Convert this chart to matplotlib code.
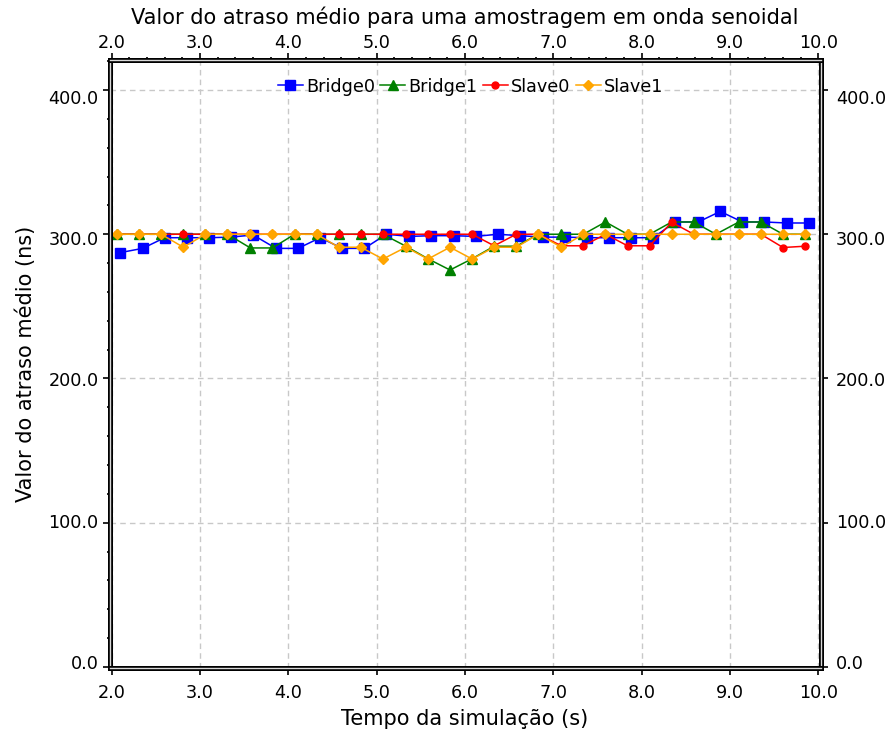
import matplotlib
matplotlib.use('Agg')
import matplotlib.pyplot as plt
import matplotlib.patheffects as pe
from matplotlib.ticker import MultipleLocator

plt.rcParams['font.family'] = ['DejaVu Sans']

# instantes de amostragem (s)
t_bridge0 = [2.09, 2.35, 2.60, 2.85, 3.10, 3.35, 3.60, 3.86, 4.11, 4.36, 4.61,
             4.86, 5.11, 5.37, 5.62, 5.87, 6.12, 6.37, 6.62, 6.88, 7.13, 7.38,
             7.63, 7.88, 8.13, 8.38, 8.64, 8.89, 9.14, 9.39, 9.64, 9.89]
t_outros = [2.06, 2.31, 2.56, 2.81, 3.06, 3.31, 3.57, 3.82, 4.07, 4.32, 4.57,
            4.82, 5.07, 5.33, 5.58, 5.83, 6.08, 6.33, 6.58, 6.83, 7.09, 7.34,
            7.59, 7.84, 8.09, 8.34, 8.59, 8.84, 9.10, 9.35, 9.60, 9.85]

# atraso medio (ns)
bridge0 = [287.2, 290.2, 297.6, 297.6, 297.6, 298.0, 299.5, 290.2, 290.2, 297.6,
           290.2, 290.2, 300.0, 298.5, 299.0, 299.0, 298.5, 300.0, 299.0, 298.0,
           298.0, 297.6, 297.6, 297.6, 297.6, 308.5, 308.5, 315.8, 308.5, 308.5,
           307.8, 307.8]
bridge1 = [300.0, 300.0, 300.0, 300.0, 300.0, 300.0, 290.5, 290.5, 300.0, 300.0,
           300.0, 300.0, 300.0, 291.7, 283.0, 275.2, 283.0, 291.7, 291.7, 300.0,
           300.0, 300.0, 308.5, 300.0, 300.0, 308.5, 308.5, 300.0, 308.5, 308.5,
           300.0, 300.0]
slave0 = [300.0, 300.0, 300.0, 300.0, 300.0, 300.0, 300.0, 300.0, 300.0, 300.0,
          300.0, 300.0, 300.0, 300.0, 300.0, 300.0, 300.0, 292.0, 300.0, 300.0,
          292.0, 292.0, 300.0, 292.0, 292.0, 308.3, 300.0, 300.0, 300.0, 300.0,
          290.8, 291.7]
slave1 = [300.0, 300.0, 300.0, 291.0, 300.0, 300.0, 300.0, 300.0, 300.0, 300.0,
          291.0, 291.0, 282.8, 291.0, 282.8, 291.0, 282.8, 291.0, 291.0, 300.0,
          291.0, 300.0, 300.0, 300.0, 300.0, 300.0, 300.0, 300.0, 300.0, 300.0,
          300.0, 300.0]

yticks = [0, 100, 200, 300, 400]
yticklabels = ['0.0', '100.0', '200.0', '300.0', '400.0']
xticks = [2, 3, 4, 5, 6, 7, 8, 9, 10]
xticklabels = ['2.0', '3.0', '4.0', '5.0', '6.0', '7.0', '8.0', '9.0', '10.0']

fs_tick = 12.7
fs_label = 15

fig = plt.figure(figsize=(8.89, 7.29), dpi=100)
pos = [0.1232, 0.0837, 0.7998, 0.834]
ax = fig.add_axes(pos)

ax.plot(t_bridge0, bridge0, color='#0000ff', marker='s', ms=6.5, lw=1.1, label='Bridge0')
ax.plot(t_outros, bridge1, color='#008000', marker='^', ms=7, lw=1.1, label='Bridge1')
ax.plot(t_outros, slave0, color='#ff0000', marker='o', ms=5, lw=1.1, label='Slave0')
ax.plot(t_outros, slave1, color='#ffa500', marker='D', ms=5.5, lw=1.1, label='Slave1')

ax.set_xlim(1.975, 10.025)
ax.set_ylim(-0.7, 420.8)
ax.set_xticks(xticks)
ax.set_xticklabels(xticklabels)
ax.xaxis.set_minor_locator(MultipleLocator(0.2))
ax.set_yticks(yticks)
ax.yaxis.set_minor_locator(MultipleLocator(20))
ax.grid(True, which='major', color='#c8c8c8', lw=1, linestyle=(0, (4, 3)))

ax.tick_params(which='both', direction='out', top=False, right=True,
               labeltop=False, labelbottom=True, labelleft=False, labelright=False,
               labelsize=fs_tick, width=1.2, pad=6.5)
ax.tick_params(which='major', length=5)
ax.tick_params(which='minor', length=2.5)

# eixo x superior com os mesmos valores
sec = ax.secondary_xaxis('top')
sec.set_xticks(xticks)
sec.set_xticklabels(xticklabels)
sec.xaxis.set_minor_locator(MultipleLocator(0.2))
sec.spines['top'].set_visible(False)
sec.tick_params(which='both', direction='out', labelsize=fs_tick, width=1.2, pad=1)
sec.tick_params(which='major', length=5)
sec.tick_params(which='minor', length=2.5)

# moldura dupla: traco escuro com miolo cinza claro
for s in ax.spines.values():
    s.set_color('#d9d9d9')
    s.set_linewidth(1)
    s.set_path_effects([pe.Stroke(linewidth=3.6, foreground='black'), pe.Normal()])

# rotulos do eixo y (esquerda e direita)
ax_l = fig.add_axes(pos, frameon=False)
ax_l.set_ylim(-4.25, 426.2)
ax_l.set_xticks([])
ax_l.set_yticks(yticks)
ax_l.set_yticklabels(yticklabels)
ax_l.tick_params(axis='y', length=0, labelsize=fs_tick, pad=8)
ax_l.patch.set_visible(False)

ax_r = ax_l.twinx()
ax_r.set_frame_on(False)
ax_r.set_ylim(-4.25, 426.2)
ax_r.set_yticks(yticks)
ax_r.set_yticklabels(yticklabels)
ax_r.tick_params(axis='y', length=0, labelsize=fs_tick, pad=11)

ax.set_title('Valor do atraso médio para uma amostragem em onda senoidal',
             fontsize=fs_label, pad=7.3)
ax.set_xlabel('Tempo da simulação (s)', fontsize=fs_label, labelpad=5)
ax.set_ylabel('Valor do atraso médio (ns)', fontsize=fs_label)
ax.yaxis.set_label_coords(-0.104, 0.5)

ax.legend(loc='upper center', bbox_to_anchor=(0.508, 1.0), ncol=4, frameon=False,
          fontsize=fs_tick, handlelength=1.4, handletextpad=0.2, columnspacing=0.3,
          borderaxespad=0.6)

fig.savefig('out.png', dpi=100)
